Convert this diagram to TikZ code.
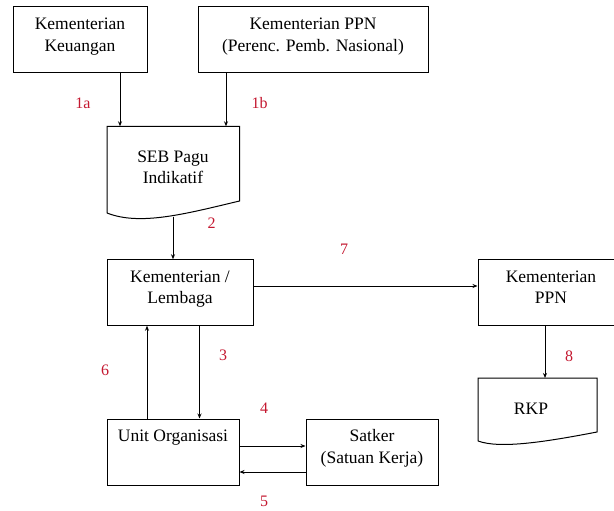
\documentclass[tikz,border=0pt]{standalone}
\usepackage{fontspec}
\setmainfont{Liberation Serif}
\usetikzlibrary{arrows.meta}
\definecolor{numred}{RGB}{196,24,48}
\begin{document}
\begin{tikzpicture}[x=1pt,y=-1pt,
  every node/.style={inner sep=0pt},
  box/.style={draw, line width=1pt, rectangle},
  doc/.style={draw, line width=1pt},
  txt/.style={align=center, font=\fontsize{17.5}{21.5}\selectfont},
  num/.style={text=numred, font=\fontsize{16}{18}\selectfont},
  arr/.style={line width=0.9pt, -{Stealth[length=5pt,width=4pt]}}]
\useasboundingbox (0,0) rectangle (614,511);
\clip (0,0) rectangle (614,511);
% boxes
\node[box, minimum width=134pt, minimum height=66pt] (kk) at (80,40) {};
\node[txt, anchor=north] (kkt) at (80,18) {Kementerian\\Keuangan};
\node[box, minimum width=230pt, minimum height=66pt] (ppn1) at (313,40) {};
\node[txt, anchor=north] (ppn1t) at (313,18) {Kementerian PPN\\(Perenc. Pemb. Nasional)};
\node[box, minimum width=146pt, minimum height=65.5pt] (kl) at (180,292.5) {};
\node[txt, anchor=north] (klt) at (180,270.5) {Kementerian /\\Lembaga};
\node[box, minimum width=146pt, minimum height=66pt] (ppn2) at (551,292.5) {};
\node[txt, anchor=north] (ppn2t) at (551,270.5) {Kementerian\\PPN};
\node[box, minimum width=132pt, minimum height=66pt] (uo) at (173,452) {};
\node[txt, anchor=north] (uot) at (173,429.5) {Unit Organisasi};
\node[box, minimum width=132pt, minimum height=66pt] (sat) at (372,452) {};
\node[txt, anchor=north] (satt) at (372,429.5) {Satker\\(Satuan Kerja)};
% document shapes
\draw[doc] (107,213) -- (107,126.5) -- (239.5,126.5) -- (239.5,201)
  .. controls (185,214) and (140,226) .. (107,213);
\node[minimum width=132.5pt, minimum height=86.5pt] (seb) at (173.25,169.75) {};
\node[txt, anchor=north] (sebt) at (173,150.5) {SEB Pagu\\Indikatif};
\coordinate (sebb) at (173,216.5);
\draw[doc] (478,441) -- (478,378) -- (597,378) -- (597,432)
  .. controls (545,442) and (500,449) .. (478,441);
\node[txt, anchor=north] (rkp) at (531,402.5) {RKP};
\coordinate (rkptop) at (545,378);
% connectors
\draw[arr] (kk.south -| 120,0) -- (seb.north -| 120,0);
\draw[arr] (ppn1.south -| 226,0) -- (seb.north -| 226,0);
\draw[arr] (sebb) -- (kl.north -| sebb);
\draw[arr] (kl.east |- 0,286) -- (ppn2.west |- 0,286);
\draw[arr] (ppn2.south -| rkptop) -- (rkptop);
\draw[arr] (kl.south -| 199.5,0) -- (uo.north -| 199.5,0);
\draw[arr] (uo.north -| 147,0) -- (kl.south -| 147,0);
\draw[arr] (uo.east |- 0,446) -- (sat.west |- 0,446);
\draw[arr] (sat.west |- 0,472) -- (uo.east |- 0,472);
% numbers
\node[num] (n1a) at (83,103) {1a};
\node[num] (n1b) at (259.5,103) {1b};
\node[num] (n2) at (211.5,223) {2};
\node[num] (n7) at (344,249) {7};
\node[num] (n8) at (569,356) {8};
\node[num] (n3) at (223,355) {3};
\node[num] (n6) at (105,370) {6};
\node[num] (n4) at (264,408) {4};
\node[num] (n5) at (264,501) {5};
\end{tikzpicture}
\end{document}
